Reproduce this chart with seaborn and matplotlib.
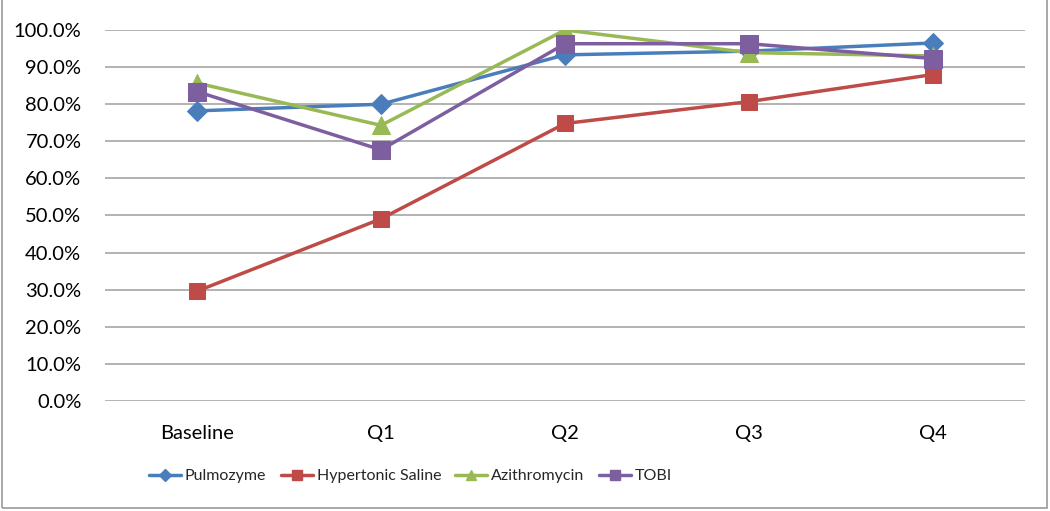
import matplotlib
matplotlib.use("Agg")
import matplotlib.pyplot as plt
import seaborn as sns
import pandas as pd
from matplotlib.ticker import PercentFormatter
from matplotlib.patches import Rectangle
from matplotlib.lines import Line2D

categories = ["Baseline", "Q1", "Q2", "Q3", "Q4"]
pulmozyme = [0.782, 0.800, 0.933, 0.943, 0.965]
hypertonic_saline = [0.296, 0.491, 0.748, 0.807, 0.880]
azithromycin = [0.857, 0.743, 1.000, 0.939, 0.930]
tobi = [0.834, 0.677, 0.963, 0.963, 0.923]

series_names = ["Pulmozyme", "Hypertonic Saline", "Azithromycin", "TOBI"]
series_values = [pulmozyme, hypertonic_saline, azithromycin, tobi]
colors = ["#4A7EBB", "#BE4B48", "#98B954", "#7D5FA0"]
markers = ["D", "s", "^", "s"]
msizes = [10.5, 12, 13, 12.5]

rows = []
for name, vals in zip(series_names, series_values):
    for i, (c, v) in enumerate(zip(categories, vals)):
        rows.append({"cat": c, "pos": i, "value": v, "series": name})
df = pd.DataFrame(rows)

sns.set_theme(style="white")
plt.rcParams["font.family"] = ["Lato", "DejaVu Sans"]

fig = plt.figure(figsize=(10.5, 5.11), dpi=100)
ax = fig.add_axes([0.1, 0.2153, 0.8762, 0.726])

for name, col, mk, ms in zip(series_names, colors, markers, msizes):
    sub = df[df["series"] == name]
    sns.lineplot(data=sub, x="pos", y="value", ax=ax, color=col, marker=mk,
                 markersize=ms, markeredgecolor=col, linewidth=2.5,
                 legend=False, zorder=3)

ax.set_xlim(-0.5, 4.5)
ax.set_ylim(0, 1.0)
ax.set_xticks(range(len(categories)))
ax.set_xticklabels(categories)
ax.set_yticks([i / 10 for i in range(11)])
ax.yaxis.set_major_formatter(PercentFormatter(1.0, decimals=1))
ax.grid(axis="y", color="#A6A6A6", linewidth=1.2, zorder=0)
ax.grid(axis="x", visible=False)
for s in ax.spines.values():
    s.set_visible(False)
ax.tick_params(axis="y", length=0, pad=17, labelsize=14.5, colors="black")
ax.tick_params(axis="x", length=0, pad=17, labelsize=14.5, colors="black")
ax.set_xlabel("")
ax.set_ylabel("")

handles = [Line2D([], [], color=col, marker=mk, markersize=ms * 0.6,
                  markeredgecolor=col, linewidth=2.5)
           for col, mk, ms in zip(colors, markers, msizes)]
fig.legend(handles, series_names, loc="center", bbox_to_anchor=(0.391, 0.068), ncol=4,
           frameon=False, handlelength=2.0, columnspacing=0.9,
           handletextpad=0.25, fontsize=11.5)

fig.patches.append(Rectangle((0.002, 0.006), 0.995, 1.2, transform=fig.transFigure,
                             fill=False, edgecolor="#9A9A9A", linewidth=1.2))

fig.savefig("out.png", dpi=100, facecolor="white")
